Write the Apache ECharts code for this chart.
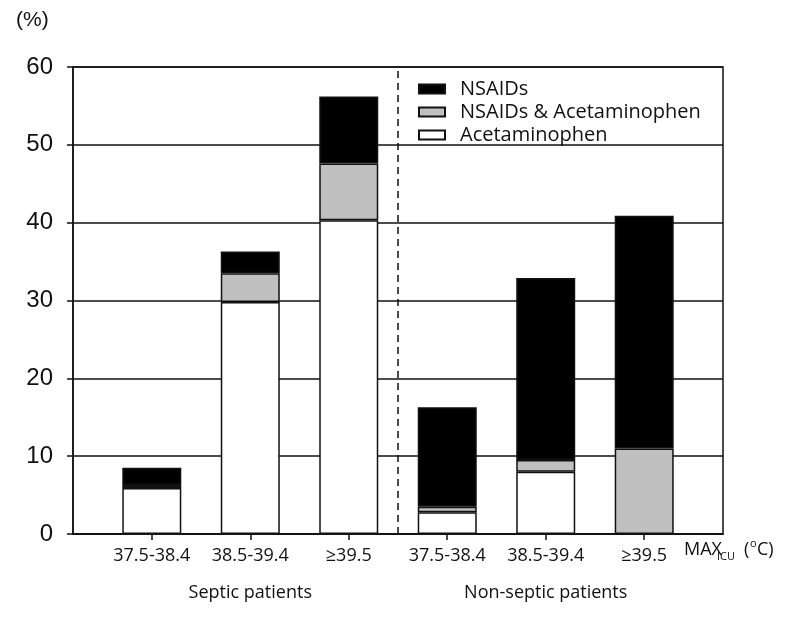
<!DOCTYPE html>
<html>
<head>
<meta charset="utf-8">
<script src="https://cdn.jsdelivr.net/npm/echarts@6/dist/echarts.min.js"></script>
<style>
  html, body { margin: 0; padding: 0; background: #fff; }
  #main { width: 785px; height: 626px; }
</style>
</head>
<body>
<div id="main"></div>
<script>
// bar positions on the x value axis and their labels
const positions = [1, 2, 3, 4, 5, 6];
const tempLabels = ['37.5-38.4', '38.5-39.4', '≥39.5', '37.5-38.4', '38.5-39.4', '≥39.5'];
const groupPositions = [2, 5];
const groupLabels = ['Septic patients', 'Non-septic patients'];

// stacked segments (%), bottom to top
const acetaminophen = [5.9, 29.8, 40.3, 2.8, 8.0, 0];
const both = [0.4, 3.7, 7.3, 0.7, 1.5, 11.0];
const nsaids = [2.2, 2.8, 8.6, 12.8, 23.4, 29.9];

const yTicks = [0, 10, 20, 30, 40, 50, 60];

const labelFont = 'Open Sans';
const ink = '#111';

// value first so that it is the stacked dimension, position second
function pairs(vals) {
    return positions.map((p, i) => [vals[i], p]);
}

let chartDom = document.getElementById('main');
let myChart = echarts.init(chartDom);

let option = {
    backgroundColor: '#fff',
    animation: false,
    grid: {
        left: 73, right: 62, top: 67, bottom: 92,
        show: true,
        borderColor: ink,
        borderWidth: 1.5
    },
    legend: {
        orient: 'vertical',
        left: 413,
        top: 74,
        icon: 'rect',
        itemWidth: 26,
        itemHeight: 9,
        itemGap: 3,
        data: ['NSAIDs', 'NSAIDs & Acetaminophen', 'Acetaminophen'],
        textStyle: {
            fontFamily: labelFont,
            fontSize: 20,
            color: ink,
            padding: [0, 0, 0, 10]
        }
    },
    xAxis: [{
        type: 'value',
        min: 0.2,
        max: 6.8,
        splitLine: { show: false },
        axisLine: { show: true, lineStyle: { color: ink, width: 1.5 } },
        axisTick: {
            show: true, length: 6, inside: false,
            customValues: positions,
            lineStyle: { color: ink, width: 1.5 }
        },
        axisLabel: {
            customValues: positions,
            margin: 13,
            fontFamily: labelFont,
            fontSize: 18,
            color: ink,
            formatter: v => tempLabels[positions.indexOf(Math.round(v))]
        }
    }, {
        type: 'value',
        position: 'bottom',
        min: 0.2,
        max: 6.8,
        splitLine: { show: false },
        axisLine: { show: false },
        axisTick: { show: false },
        axisLabel: {
            customValues: groupPositions,
            margin: 50,
            fontFamily: labelFont,
            fontSize: 18,
            color: ink,
            formatter: v => groupLabels[groupPositions.indexOf(Math.round(v))]
        }
    }],
    yAxis: {
        type: 'value',
        min: 0,
        max: 60,
        interval: 10,
        axisLine: { show: true, lineStyle: { color: ink, width: 1.5 } },
        axisTick: { show: true, length: 6, lineStyle: { color: ink, width: 1.5 } },
        axisLabel: {
            margin: 20,
            fontFamily: 'Liberation Sans',
            fontSize: 24,
            color: ink,
            formatter: v => yTicks.includes(v) ? String(v) : ''
        },
        splitLine: { show: true, lineStyle: { color: ink, width: 1.5 } }
    },
    series: [{
        name: 'Acetaminophen',
        type: 'bar',
        stack: 'drug',
        barWidth: 59,
        encode: { x: 1, y: 0 },
        data: pairs(acetaminophen),
        itemStyle: { color: '#ffffff', borderColor: ink, borderWidth: 1.5 },
        markLine: {
            silent: true,
            symbol: 'none',
            label: { show: false },
            lineStyle: { color: ink, width: 1.5, type: [7, 5] },
            data: [{ xAxis: 3.5 }]
        }
    }, {
        name: 'NSAIDs & Acetaminophen',
        type: 'bar',
        stack: 'drug',
        barWidth: 59,
        encode: { x: 1, y: 0 },
        data: pairs(both),
        itemStyle: { color: '#c0c0c0', borderColor: ink, borderWidth: 1.5 }
    }, {
        name: 'NSAIDs',
        type: 'bar',
        stack: 'drug',
        barWidth: 59,
        encode: { x: 1, y: 0 },
        data: pairs(nsaids),
        itemStyle: { color: '#000000', borderColor: ink, borderWidth: 1.5 }
    }],
    graphic: [
        { type: 'text', left: 16, top: 10, style: { text: '(%)', font: '21px "Liberation Sans"', fill: ink } },
        { type: 'text', left: 684, top: 541, style: { text: 'MAX', font: '18px "Open Sans"', fill: ink } },
        { type: 'text', left: 717, top: 551, style: { text: 'ICU', font: '11px "Open Sans"', fill: ink } },
        { type: 'text', left: 744, top: 541, style: { text: '(', font: '18px "Open Sans"', fill: ink } },
        { type: 'text', left: 750, top: 538, style: { text: 'o', font: '11px "Open Sans"', fill: ink } },
        { type: 'text', left: 757, top: 541, style: { text: 'C)', font: '18px "Open Sans"', fill: ink } }
    ]
};

option && myChart.setOption(option);
</script>
</body>
</html>
